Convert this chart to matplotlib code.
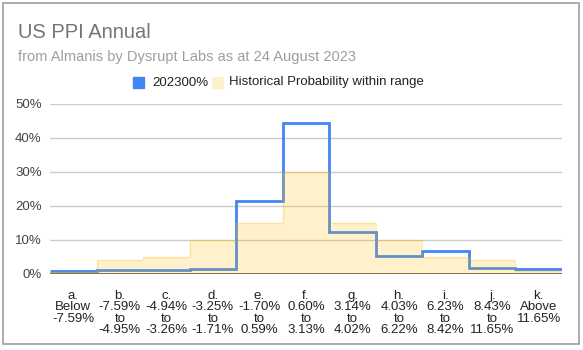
import numpy as np
import matplotlib
matplotlib.use('Agg')
import matplotlib.pyplot as plt
from matplotlib.patches import Rectangle

# Data
categories = ['a.\nBelow\n-7.59%', 'b.\n-7.59%\nto\n-4.95%', 'c.\n-4.94%\nto\n-3.26%',
              'd.\n-3.25%\nto\n-1.71%', 'e.\n-1.70%\nto\n0.59%', 'f.\n0.60%\nto\n3.13%',
              'g.\n3.14%\nto\n4.02%', 'h.\n4.03%\nto\n6.22%', 'i.\n6.23%\nto\n8.42%',
              'j.\n8.43%\nto\n11.65%', 'k.\nAbove\n11.65%']
forecast = [1.0, 1.2, 1.3, 1.5, 21.5, 44.2, 12.4, 5.4, 6.8, 1.9, 1.6]
historical = [0.6, 4.0, 5.0, 10.0, 15.0, 30.0, 15.0, 10.0, 5.0, 4.0, 0.8]
series_names = ['202300%', 'Historical Probability within range']

plt.rcParams['font.family'] = ['Liberation Sans', 'DejaVu Sans']

fig = plt.figure(figsize=(5.83, 3.5), dpi=100)
ax = fig.add_axes([50 / 583, 1 - 274 / 350, 512 / 583, (274 - 103.5) / 350])

edges = np.arange(len(categories) + 1)
ax.stairs(forecast, edges, color='#4285f4', lw=2, baseline=None, zorder=2)
ax.stairs(historical, edges, fill=True, color='#fbbc04', alpha=0.2, lw=0, zorder=3)
ax.stairs(historical, edges, color='#fbbc04', alpha=0.25, lw=1, baseline=None, zorder=3)
ax.axhline(0, color='#6b5f3a', lw=1.2, zorder=4)

ax.set_xlim(0, len(categories))
ax.set_ylim(0, 50)
ax.set_yticks(np.arange(0, 51, 10))
ax.set_yticklabels([f'{v}%' for v in range(0, 51, 10)])
ax.set_xticks(edges[:-1] + 0.5)
ax.set_xticklabels(categories, linespacing=0.92, va='top')
ax.tick_params(axis='both', length=0, labelsize=9.5, colors='#222222')
ax.tick_params(axis='x', pad=11.5)
ax.tick_params(axis='y', pad=6, colors='#444444')
ax.grid(axis='y', color='#cccccc', lw=1)
ax.set_axisbelow(True)
for s in ax.spines.values():
    s.set_visible(False)

# titles
fig.text(18 / 583, 1 - 32 / 350, 'US PPI Annual', fontsize=14.5, color='#757575', va='center')
fig.text(18 / 583, 1 - 57 / 350, 'from Almanis by Dysrupt Labs as at 24 August 2023',
         fontsize=10.5, color='#9e9e9e', va='center')

# legend
fig.patches.append(Rectangle((133 / 583, 1 - 88 / 350), 11 / 583, 11 / 350,
                             transform=fig.transFigure, color='#4285f4'))
fig.text(152 / 583, 1 - 82.5 / 350, series_names[0], fontsize=9.5, color='#222222', va='center')
fig.patches.append(Rectangle((212 / 583, 1 - 88 / 350), 11 / 583, 11 / 350,
                             transform=fig.transFigure, color='#fdf1cc'))
fig.text(229 / 583, 1 - 82.5 / 350, series_names[1], fontsize=9.5, color='#222222', va='center')

# outer frame
fig.patches.append(Rectangle((3 / 583, 1 - 344 / 350), 576 / 583, 341 / 350,
                             transform=fig.transFigure, fill=False, ec='#9e9e9e', lw=1.2))

fig.savefig('out.png', dpi=100)
